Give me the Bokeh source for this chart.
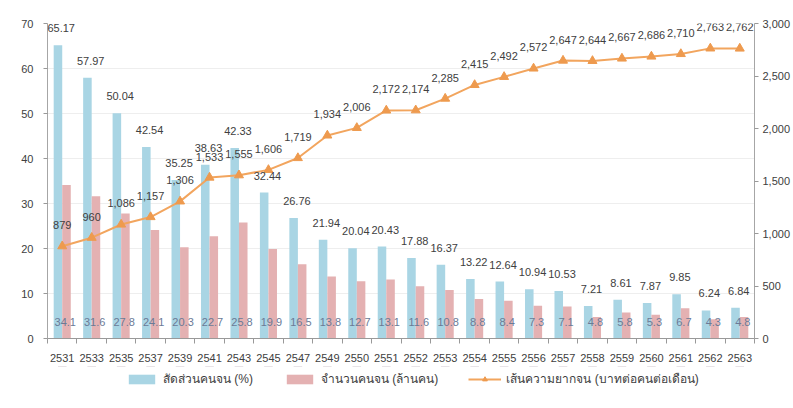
from bokeh.plotting import figure
from bokeh.layouts import column
from bokeh.models import (Range1d, LinearAxis, FixedTicker, SingleIntervalTicker,
                          ColumnDataSource, LabelSet, Legend, LegendItem,
                          NumeralTickFormatter)
from bokeh.core.properties import value
from bokeh.transform import dodge
from bokeh.embed import file_html
from bokeh.resources import INLINE

years = [2531, 2533, 2535, 2537, 2539, 2541, 2543, 2545, 2547, 2549, 2550, 2551,
         2552, 2553, 2554, 2555, 2556, 2557, 2558, 2559, 2560, 2561, 2562, 2563]
poverty_pct = [65.17, 57.97, 50.04, 42.54, 35.25, 38.63, 42.33, 32.44, 26.76, 21.94,
               20.04, 20.43, 17.88, 16.37, 13.22, 12.64, 10.94, 10.53, 7.21, 8.61,
               7.87, 9.85, 6.24, 6.84]
poor_million = [34.1, 31.6, 27.8, 24.1, 20.3, 22.7, 25.8, 19.9, 16.5, 13.8, 12.7, 13.1,
                11.6, 10.8, 8.8, 8.4, 7.3, 7.1, 4.8, 5.8, 5.3, 6.7, 4.3, 4.8]
poverty_line = [879, 960, 1086, 1157, 1306, 1533, 1555, 1606, 1719, 1934, 2006, 2172,
                2174, 2285, 2415, 2492, 2572, 2647, 2644, 2667, 2686, 2710, 2763, 2762]
series_names = ["สัดส่วนคนจน (%)", "จำนวนคนจน (ล้านคน)",
                "เส้นความยากจน (บาทต่อคนต่อเดือน)"]

n = len(years)
idx = list(range(n))
src = ColumnDataSource(dict(
    x=idx,
    pct=poverty_pct,
    poor=poor_million,
    line=poverty_line,
    zero=[0] * n,
    pct_lbl=[f"{v:.2f}" for v in poverty_pct],
    poor_lbl=[f"{v:.1f}" for v in poor_million],
    line_lbl=[f"{v:,}" for v in poverty_line],
))

FONT = "Liberation Sans"
BLUE = "#A9D5E4"
PINK = "#E4B1B2"
ORANGE = "#F2A55E"
MARK = "#EE9A4E"
TXT = "#404040"

p = figure(width=793, height=366, output_backend="svg", toolbar_location=None,
           x_range=Range1d(-0.5, n - 0.5), y_range=Range1d(0, 70),
           min_border_left=47, min_border_right=34, min_border_top=23,
           min_border_bottom=28, outline_line_color=None)
p.extra_y_ranges = {"line": Range1d(0, 3000)}

# grid
p.xgrid.grid_line_color = None
p.ygrid.grid_line_color = "#eeeeee"
p.ygrid.ticker = SingleIntervalTicker(interval=10)

# bars
p.vbar(x=dodge("x", -0.145, range=p.x_range), top="pct", width=0.29,
       source=src, fill_color=BLUE, line_color=None)
p.vbar(x=dodge("x", 0.145, range=p.x_range), top="poor", width=0.29,
       source=src, fill_color=PINK, line_color=None)

# line
p.line(x="x", y="line", source=src, y_range_name="line",
       line_color=ORANGE, line_width=2)
p.scatter(x="x", y="line", source=src, y_range_name="line",
          marker="triangle", size=9, fill_color=MARK, line_color=MARK)

# axes
xa = p.xaxis[0]
xa.ticker = FixedTicker(ticks=idx, minor_ticks=[i - 0.5 for i in range(n + 1)])
xa.major_label_overrides = {i: str(y) for i, y in enumerate(years)}
xa.major_tick_line_color = None
xa.major_tick_out = 0
xa.minor_tick_out = 5
xa.minor_tick_in = 0
xa.minor_tick_line_color = "#999999"
xa.axis_line_color = "#999999"
xa.major_label_standoff = 10
xa.major_label_text_font = FONT
xa.major_label_text_font_size = "11px"
xa.major_label_text_color = TXT

ya = p.yaxis[0]
ya.ticker = SingleIntervalTicker(interval=10)
ya.minor_tick_line_color = None
ya.major_tick_out = 4
ya.major_tick_in = 0
ya.major_tick_line_color = "#999999"
ya.axis_line_color = "#a6a6a6"
ya.major_label_standoff = 10
ya.major_label_text_font = FONT
ya.major_label_text_font_size = "11px"
ya.major_label_text_color = TXT

ra = LinearAxis(y_range_name="line", ticker=SingleIntervalTicker(interval=500),
                formatter=NumeralTickFormatter(format="0,0"))
ra.minor_tick_line_color = None
ra.major_tick_out = 4
ra.major_tick_in = 0
ra.major_tick_line_color = "#999999"
ra.axis_line_color = "#a6a6a6"
ra.major_label_standoff = 4
ra.major_label_text_font = FONT
ra.major_label_text_font_size = "11px"
ra.major_label_text_color = TXT
p.add_layout(ra, "right")

# labels
lbl_font = value(FONT)
p.add_layout(LabelSet(x="x", y="pct", text="pct_lbl", source=src, x_offset=-1, y_offset=17,
                      text_align="center", text_baseline="middle", text_font=lbl_font,
                      text_font_size=value("11px"), text_color=value(TXT)))
p.add_layout(LabelSet(x="x", y="line", y_range_name="line", text="line_lbl", source=src,
                      x_offset=0, y_offset=21, text_align="center", text_baseline="middle",
                      text_font=lbl_font, text_font_size=value("11px"), text_color=value(TXT)))
p.add_layout(LabelSet(x="x", y="zero", text="poor_lbl", source=src, x_offset=3, y_offset=17,
                      text_align="center", text_baseline="middle", text_font=lbl_font,
                      text_font_size=value("11px"), text_color=value("#6b7a96")))

# legend strip (separate figure; its glyphs lie outside its visible range)
lp = figure(width=793, height=42, output_backend="svg", toolbar_location=None,
            x_range=Range1d(-0.5, n - 0.5), y_range=Range1d(-200, -100),
            x_axis_type=None, y_axis_type=None, outline_line_color=None,
            min_border=0)
lp.grid.grid_line_color = None
r1 = lp.vbar(x="x", top="pct", width=0.29, source=src, fill_color=BLUE, line_color=None)
r2 = lp.vbar(x="x", top="poor", width=0.29, source=src, fill_color=PINK, line_color=None)
r3 = lp.line(x="x", y="line", source=src, line_color=ORANGE, line_width=2)
r4 = lp.scatter(x="x", y="line", source=src, marker="triangle", size=8,
                fill_color=MARK, line_color=MARK)
legend = Legend(items=[LegendItem(label=series_names[0], renderers=[r1]),
                       LegendItem(label=series_names[1], renderers=[r2]),
                       LegendItem(label=series_names[2], renderers=[r3, r4])],
                orientation="horizontal", location=(78, 20),
                glyph_width=33, glyph_height=12, label_standoff=5, spacing=30,
                padding=2, margin=0, border_line_color=None,
                background_fill_alpha=0,
                label_text_font_size="12px", label_text_color=TXT)
lp.add_layout(legend, "center")

open("out.html", "w").write(file_html(column(p, lp, spacing=0), INLINE))
